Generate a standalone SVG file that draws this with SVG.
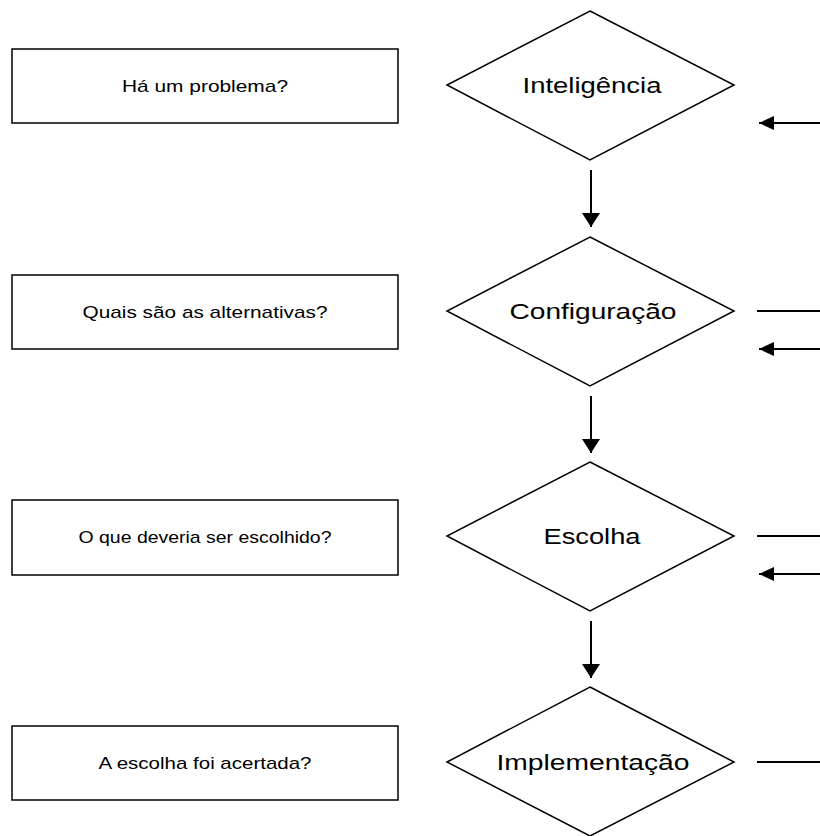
<svg xmlns="http://www.w3.org/2000/svg" width="820" height="836" viewBox="0 0 820 836">
<style>
.box{fill:#fff;stroke:#000;stroke-width:1.5}
.dia{fill:#fff;stroke:#000;stroke-width:1.5}
.bt{font-family:"Liberation Sans",Arial,sans-serif;font-size:17px;fill:#000;text-anchor:middle}
.dt{font-family:"Liberation Sans",Arial,sans-serif;font-size:22px;fill:#000;text-anchor:middle}
.ln{stroke:#000;stroke-width:2;fill:none}
</style>
<defs>
<marker id="ah" markerUnits="userSpaceOnUse" markerWidth="16" markerHeight="14" refX="15" refY="7" orient="auto">
<path d="M0,0 L15,7 L0,14 z" fill="#000"/>
</marker>
<marker id="av" markerUnits="userSpaceOnUse" markerWidth="16" markerHeight="18" refX="14" refY="9" orient="auto">
<path d="M0,0 L14,9 L0,18 z" fill="#000"/>
</marker>
</defs>
<g id="q1"><rect class="box" x="12" y="49" width="386" height="74"/><text class="bt" x="205" y="92" textLength="166" lengthAdjust="spacingAndGlyphs">Há um problema?</text></g>
<g id="q2"><rect class="box" x="12" y="275" width="386" height="74"/><text class="bt" x="205" y="318" textLength="245" lengthAdjust="spacingAndGlyphs">Quais são as alternativas?</text></g>
<g id="q3"><rect class="box" x="12" y="500" width="386" height="75"/><text class="bt" x="205" y="543" textLength="253" lengthAdjust="spacingAndGlyphs">O que deveria ser escolhido?</text></g>
<g id="q4"><rect class="box" x="12" y="726" width="386" height="74"/><text class="bt" x="205" y="769" textLength="213" lengthAdjust="spacingAndGlyphs">A escolha foi acertada?</text></g>
<g id="d1"><polygon class="dia" points="590,11 734,85 590,160 447,85"/><text class="dt" x="592" y="93" textLength="139" lengthAdjust="spacingAndGlyphs">Inteligência</text></g>
<g id="d2"><polygon class="dia" points="590,237 734,311 590,386 447,311"/><text class="dt" x="593" y="319" textLength="167" lengthAdjust="spacingAndGlyphs">Configuração</text></g>
<g id="d3"><polygon class="dia" points="590,462 734,536 590,611 447,536"/><text class="dt" x="592" y="544" textLength="97" lengthAdjust="spacingAndGlyphs">Escolha</text></g>
<g id="d4"><polygon class="dia" points="590,687 734,762 590,836 447,762"/><text class="dt" x="593" y="770" textLength="193" lengthAdjust="spacingAndGlyphs">Implementação</text></g>
<g id="connectors">
<line class="ln" x1="591" y1="170" x2="591" y2="227" marker-end="url(#av)"/>
<line class="ln" x1="591" y1="396" x2="591" y2="453" marker-end="url(#av)"/>
<line class="ln" x1="591" y1="621" x2="591" y2="678" marker-end="url(#av)"/>
<line class="ln" x1="820" y1="123" x2="759" y2="123" marker-end="url(#ah)"/>
<line class="ln" x1="757" y1="311" x2="820" y2="311"/>
<line class="ln" x1="820" y1="349" x2="759" y2="349" marker-end="url(#ah)"/>
<line class="ln" x1="757" y1="536" x2="820" y2="536"/>
<line class="ln" x1="820" y1="574" x2="759" y2="574" marker-end="url(#ah)"/>
<line class="ln" x1="757" y1="762" x2="820" y2="762"/>
</g>
</svg>
